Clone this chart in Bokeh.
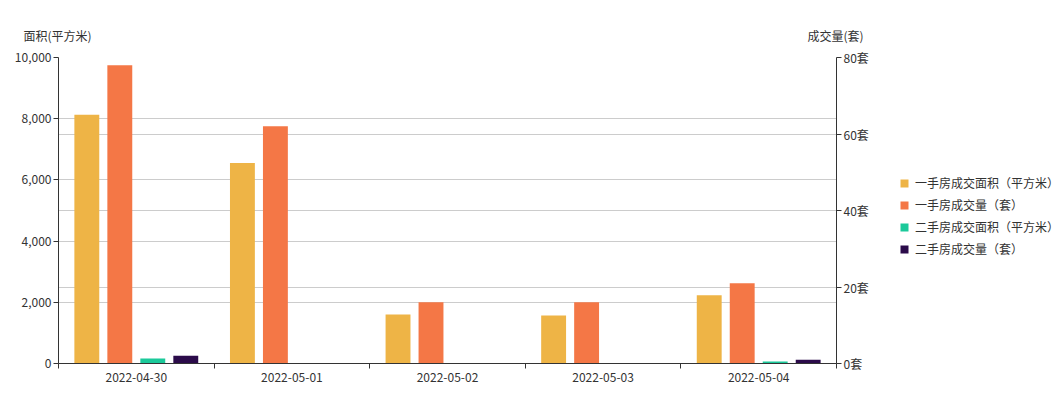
from bokeh.plotting import figure
from bokeh.layouts import column, row
from bokeh.models import (Range1d, LinearAxis, FixedTicker, NumeralTickFormatter,
                          PrintfTickFormatter, Grid, Legend, LegendItem, Label,
                          ColumnDataSource)
from bokeh.embed import file_html
from bokeh.resources import INLINE

# ---- data ----
dates = ["2022-04-30", "2022-05-01", "2022-05-02", "2022-05-03", "2022-05-04"]
new_area = [8130, 6550, 1600, 1570, 2230]      # 一手房成交面积（平方米）
new_count = [78, 62, 16, 16, 21]               # 一手房成交量（套）
second_area = [160, 0, 0, 0, 65]               # 二手房成交面积（平方米）
second_count = [2, 0, 0, 0, 1]                 # 二手房成交量（套）
area_ticks = [0, 2000, 4000, 6000, 8000, 10000]
count_ticks = [0, 20, 40, 60, 80]

names = ["一手房成交面积（平方米）", "一手房成交量（套）",
         "二手房成交面积（平方米）", "二手房成交量（套）"]
colors = ["#EEB446", "#F47746", "#1BC99A", "#2B0B4A"]
left_title = "面积(平方米)"
right_title = "成交量(套)"

FONT = "Noto Sans CJK SC"
TXT = "#333333"
GRID = "#cccccc"

TOP_H = 47
MAIN_W, MAIN_H = 880, 346
LEG_W = 184

# ---------------- main chart ----------------
p = figure(width=MAIN_W, height=MAIN_H, output_backend="svg", toolbar_location=None,
           x_range=Range1d(0, len(dates)), y_range=Range1d(0, area_ticks[-1]),
           min_border_left=58, min_border_right=44, min_border_top=10,
           min_border_bottom=30)
p.outline_line_color = None
p.xgrid.visible = False
p.extra_y_ranges = {"right": Range1d(0, count_ticks[-1])}

centers = [i + 0.5 for i in range(len(dates))]
offsets = [-0.318, -0.106, 0.106, 0.318]
series = [(new_area, "default"), (new_count, "right"),
          (second_area, "default"), (second_count, "right")]
for (vals, rng), off, col in zip(series, offsets, colors):
    src = ColumnDataSource(dict(x=[c + off for c in centers], top=vals))
    p.vbar(x="x", top="top", bottom=0, width=0.16, source=src,
           fill_color=col, line_color=None, y_range_name=rng)

# x axis: labels at centers, tick marks at category boundaries
xax = p.xaxis[0]
xax.ticker = FixedTicker(ticks=centers, minor_ticks=list(range(len(dates) + 1)))
xax.major_label_overrides = {c: d for c, d in zip(centers, dates)}
xax.major_tick_line_color = None
xax.major_tick_out = 0
xax.major_tick_in = 0
xax.minor_tick_out = 5
xax.minor_tick_in = 0
xax.minor_tick_line_color = TXT
xax.axis_line_color = TXT
xax.major_label_standoff = 4
xax.major_label_text_font = FONT
xax.major_label_text_font_size = "12px"
xax.major_label_text_color = TXT

# left axis
yax = p.yaxis[0]
yax.ticker = FixedTicker(ticks=area_ticks)
yax.formatter = NumeralTickFormatter(format="0,0")
yax.minor_tick_line_color = None
yax.major_tick_out = 5
yax.major_tick_in = 0
yax.axis_line_color = TXT
yax.major_tick_line_color = TXT
yax.major_label_standoff = 2
yax.major_label_text_font = FONT
yax.major_label_text_font_size = "12px"
yax.major_label_text_color = TXT
p.ygrid.ticker = yax.ticker
p.ygrid.grid_line_color = GRID

# right axis
rax = LinearAxis(y_range_name="right", ticker=FixedTicker(ticks=count_ticks),
                 formatter=PrintfTickFormatter(format="%d套"))
rax.minor_tick_line_color = None
rax.major_tick_out = 5
rax.major_tick_in = 0
rax.axis_line_color = TXT
rax.major_tick_line_color = TXT
rax.major_label_standoff = 2
rax.major_label_text_font = FONT
rax.major_label_text_font_size = "12px"
rax.major_label_text_color = TXT
p.add_layout(rax, "right")
p.add_layout(Grid(dimension=1, ticker=rax.ticker, y_range_name="right",
                  grid_line_color=GRID))

# ---------------- axis titles strip ----------------
TOP_W = MAIN_W + LEG_W
t = figure(width=TOP_W, height=TOP_H, output_backend="svg", toolbar_location=None,
           x_range=Range1d(0, TOP_W), y_range=Range1d(0, TOP_H),
           x_axis_type=None, y_axis_type=None, min_border=0)
t.outline_line_color = None
t.grid.visible = False
for xpos, txt in [(57, left_title), (835, right_title)]:
    t.add_layout(Label(x=xpos, y=TOP_H - 35, text=txt, text_align="center",
                       text_baseline="middle", text_font=FONT,
                       text_font_size="12px", text_color=TXT))

# ---------------- legend panel ----------------
lg = figure(width=LEG_W, height=MAIN_H, output_backend="svg",
            toolbar_location=None, x_range=Range1d(0, 1), y_range=Range1d(0, 1),
            x_axis_type=None, y_axis_type=None, min_border=0)
lg.outline_line_color = None
lg.grid.visible = False
items = []
for n, col in zip(names, colors):
    r = lg.vbar(x=[0.5], top=[0], bottom=[0], width=0.1, fill_color=col,
                line_color=None)
    items.append(LegendItem(label=n, renderers=[r]))
legend = Legend(items=items, location=(19, 106), border_line_color=None,
                background_fill_alpha=0, glyph_width=10, glyph_height=10,
                label_standoff=6, label_text_font=FONT, label_text_font_size="12px",
                label_text_color=TXT, label_height=10, spacing=5,
                margin=0, padding=0)
lg.add_layout(legend, "center")

layout = column(t, row(p, lg))
open("out.html", "w").write(file_html(layout, INLINE))
